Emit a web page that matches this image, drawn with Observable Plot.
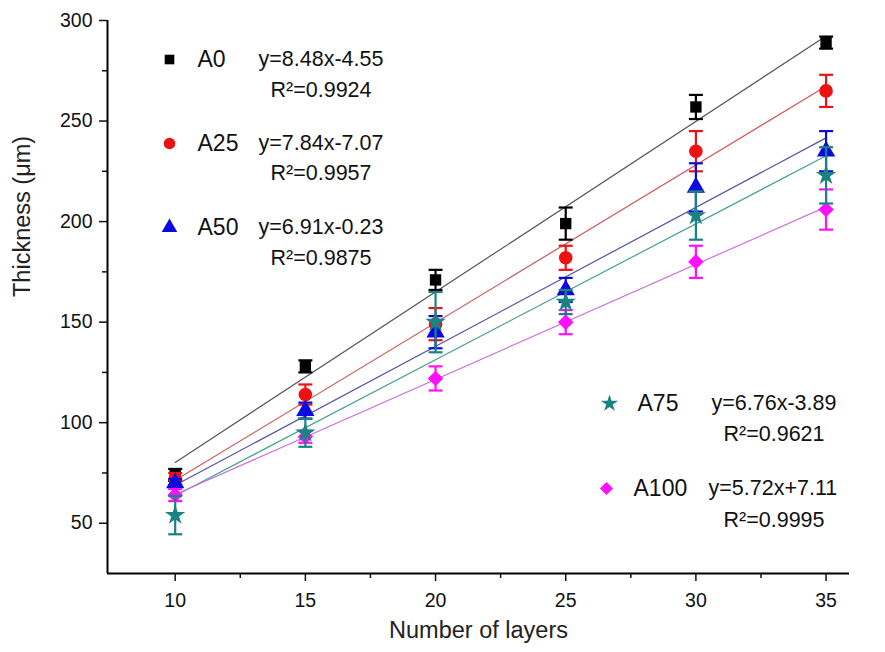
<!DOCTYPE html>
<html><head><meta charset="utf-8">
<script src="https://cdn.jsdelivr.net/npm/d3@7"></script>
<script src="https://cdn.jsdelivr.net/npm/@observablehq/plot@0.6"></script>
<style>body{margin:0;background:#fff} #chart{width:885px;height:652px}</style>
</head><body><div id="chart"></div>
<script>
// ---- data ----
const layers = [10, 15, 20, 25, 30, 35];
const seriesNames = ["A0", "A25", "A50", "A75", "A100"];
const A0 = [74, 128, 171, 199, 257, 289];
const A0err = [3, 3, 5, 8, 6, 3];
const A25 = [72, 114, 149, 182, 235, 265];
const A25err = [3, 5, 8, 6, 10, 8];
const A50 = [70, 106, 145, 166, 217, 235];
const A50err = [2, 4, 8, 6, 12, 10];
const A75 = [54, 95, 150, 160, 203, 223];
const A75err = [9.5, 7, 15, 6, 12, 14];
const A100 = [64, 93, 122, 150, 180, 206];
const A100err = [3, 3, 6, 6, 8, 10];
const slopes = [8.48, 7.84, 6.91, 6.76, 5.72];
const intercepts = [-4.55, -7.07, -0.23, -3.89, 7.11];
const equations = ["y=8.48x-4.55", "y=7.84x-7.07", "y=6.91x-0.23", "y=6.76x-3.89", "y=5.72x+7.11"];
const r2Labels = ["R²=0.9924", "R²=0.9957", "R²=0.9875", "R²=0.9621", "R²=0.9995"];
const xTicks = [10, 15, 20, 25, 30, 35];
const xMinor = [12.5, 17.5, 22.5, 27.5, 32.5];
const yTicks = [50, 100, 150, 200, 250, 300];
const yMinor = [75, 125, 175, 225, 275];

// ---- styles ----
const pointColors = ["#000000", "#ee1111", "#0a0ae0", "#1a8282", "#ff10ff"];
const lineColors = ["#555555", "#cc5a5a", "#5353a8", "#45a08c", "#cc70dd"];
const symbols = ["square", "circle", "triangle", "star", "diamond2"];
const symR = [6.4, 6.8, 6.8, 6.4, 7];

const values = [A0, A25, A50, A75, A100];
const errs = [A0err, A25err, A50err, A75err, A100err];

const points = [];
seriesNames.forEach((s, i) => layers.forEach((x, j) => points.push({s, i, x, y: values[i][j], e: errs[i][j]})));
const fits = [];
seriesNames.forEach((s, i) => [layers[0], layers[layers.length - 1]].forEach(x => fits.push({s, i, x, y: slopes[i] * x + intercepts[i]})));

const cap = {draw(ctx, size) { const w = Math.sqrt(size / Math.PI); ctx.moveTo(-w, 0); ctx.lineTo(w, 0); }};

// legend layout (absolute pixels; frame top-left at 107,20)
const legendPos = [
  {sx: 169, sy: 59, nx: 197, ex: 258, rx: 270, ry: 90},
  {sx: 169, sy: 143, nx: 197, ex: 258, rx: 270, ry: 173},
  {sx: 169, sy: 227, nx: 197, ex: 258, rx: 270, ry: 258},
  {sx: 609, sy: 403, nx: 637, ex: 711, rx: 723, ry: 434},
  {sx: 606, sy: 488, nx: 633, ex: 708, rx: 723, ry: 520}
];
const FX = 107, FY = 20;
const font = "Liberation Sans, Arial, sans-serif";

const marks = [
  Plot.ruleY([25], {stroke: "#000", strokeWidth: 2}),
  Plot.ruleX([7.4], {stroke: "#000", strokeWidth: 2}),
  Plot.axisX({ticks: xTicks, tickSize: 8, tickPadding: 12, fontSize: 19.5, label: null, strokeWidth: 1.5}),
  Plot.axisX({ticks: xMinor, tickSize: 5, text: null, label: null, strokeWidth: 1.5}),
  Plot.axisY({ticks: yTicks, tickSize: 8, tickPadding: 7, fontSize: 19.5, label: null, strokeWidth: 1.5}),
  Plot.axisY({ticks: yMinor, tickSize: 5, text: null, label: null, strokeWidth: 1.5}),
  Plot.text(["Number of layers"], {frameAnchor: "bottom", dy: 64, fontSize: 23.5, fill: "#222"}),
  Plot.text(["Thickness (μm)"], {frameAnchor: "left", dx: -85, rotate: -90, fontSize: 23.5, fill: "#222"}),
  Plot.line(fits, {x: "x", y: "y", z: "s", stroke: d => lineColors[d.i], strokeWidth: 1.2}),
];
[0, 1, 2, 4, 3].forEach(i => {
  const pts = points.filter(d => d.i === i);
  marks.push(
    Plot.link(pts, {x1: "x", x2: "x", y1: d => d.y - d.e, y2: d => d.y + d.e, stroke: pointColors[i], strokeWidth: 2.2}),
    Plot.dot(pts, {x: "x", y: d => d.y - d.e, symbol: cap, r: 7, stroke: pointColors[i], strokeWidth: 2.2}),
    Plot.dot(pts, {x: "x", y: d => d.y + d.e, symbol: cap, r: 7, stroke: pointColors[i], strokeWidth: 2.2}),
    Plot.dot(pts, {x: "x", y: "y", symbol: symbols[i], r: symR[i], fill: pointColors[i], stroke: "none"})
  );
});
seriesNames.forEach((s, i) => {
  const p = legendPos[i];
  marks.push(
    Plot.dot([s], {frameAnchor: "top-left", dx: p.sx - FX, dy: p.sy - FY, symbol: symbols[i], r: symR[i] * 0.85, fill: pointColors[i], stroke: "none"}),
    Plot.text([s], {frameAnchor: "top-left", dx: p.nx - FX, dy: p.sy - FY, textAnchor: "start", lineAnchor: "middle", fontSize: 23, fill: "#111"}),
    Plot.text([equations[i]], {frameAnchor: "top-left", dx: p.ex - FX, dy: p.sy - FY, textAnchor: "start", lineAnchor: "middle", fontSize: 21.5, fill: "#111"}),
    Plot.text([r2Labels[i]], {frameAnchor: "top-left", dx: p.rx - FX, dy: p.ry - FY, textAnchor: "start", lineAnchor: "middle", fontSize: 21.5, fill: "#111"})
  );
});

const plot = Plot.plot({
  width: 885, height: 652,
  marginLeft: 107, marginTop: 20, marginBottom: 79, marginRight: 36,
  x: {domain: [7.4, 35.9]},
  y: {domain: [25, 300]},
  style: {fontFamily: font, color: "#111", background: "#fff", overflow: "visible"},
  marks
});
document.getElementById("chart").appendChild(plot);
</script></body></html>
